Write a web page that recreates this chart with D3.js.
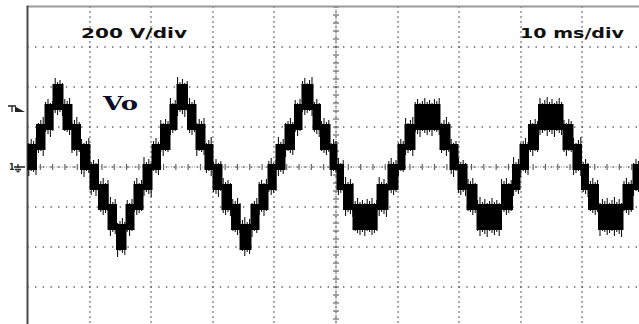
<!DOCTYPE html>
<html>
<head>
<meta charset="utf-8">
<script src="https://cdn.jsdelivr.net/npm/d3@7"></script>
<style>
  html, body { margin: 0; padding: 0; background: #fff; }
  svg { display: block; }
</style>
</head>
<body>
<svg id="scope" width="639" height="324"></svg>
<script>
// ---- Scope settings ----
const voltsPerDiv = 200;
const msPerDiv = 10;
const hDivs = 10;
const vDivs = 8;
const scaleLabels = ["200 V/div", "10 ms/div"];
const traceLabel = "Vo";
const triggerLevelV = 290;
const levelStepV = 100;

// ---- Multilevel output: switching instants (ms) and lower level (V) of each PWM band ----
const edgesMs = [
  0, 1.38, 2.76, 4.06, 5.68, 7.14, 8.52, 10.06, 11.44, 12.99, 14.37,
  15.91, 17.21, 18.67, 20.13, 21.51, 23.05, 24.19, 25.89, 27.27, 28.73,
  30.03, 31.49, 33.04, 34.42, 36.20, 37.50, 38.96, 40.26, 41.72, 43.26,
  44.48, 46.27, 47.48, 49.03, 50.16, 51.22, 52.76, 56.66, 58.44, 60.06,
  61.20, 62.82, 66.88, 68.51, 69.81, 71.27, 72.89, 76.87, 78.65, 79.87,
  81.25, 82.87, 86.85, 88.47, 89.85, 90.99, 92.61, 96.59, 98.21, 100
];
const bandLowV = [
  0, 100, 200, 300, 200, 100, 0, -100, -200, -300,
  -400, -300, -200, -100, 0, 100, 200, 300, 200, 100,
  0, -100, -200, -300, -400, -300, -200, -100, 0, 100,
  200, 300, 200, 100, 0, -100, -200, -300, -200, -100,
  0, 100, 200, 100, 0, -100, -200, -300, -200, -100,
  0, 100, 200, 100, 0, -100, -200, -300, -200, -100
];

// ---- Layout ----
const svg = d3.select("#scope");
const plotLeft = 28, plotTop = 7, divW = 61.6, divH = 40;
const x = d3.scaleLinear().domain([0, hDivs * msPerDiv]).range([plotLeft, plotLeft + hDivs * divW]);
const y = d3.scaleLinear().domain([-vDivs / 2 * voltsPerDiv, vDivs / 2 * voltsPerDiv])
  .range([plotTop + vDivs * divH, plotTop]);

// ---- Graticule ----
const grid = svg.append("g").attr("fill", "#555");
const dotsPerDiv = 8;
// vertical dotted lines
for (let i = 1; i <= hDivs; i++) {
  const gx = Math.round(x(i * msPerDiv));
  for (let k = 0; k <= vDivs * dotsPerDiv; k++) {
    const gy = plotTop + k * divH / dotsPerDiv;
    grid.append("rect").attr("x", gx - 0.7).attr("y", gy - 0.7).attr("width", 1.4).attr("height", 1.4);
  }
}
// horizontal dotted lines
for (let j = 1; j < vDivs; j++) {
  const gy = Math.round(y((vDivs / 2 - j) * voltsPerDiv));
  for (let k = 0; k <= hDivs * dotsPerDiv; k++) {
    const gx = plotLeft + k * divW / dotsPerDiv;
    grid.append("rect").attr("x", gx - 0.7).attr("y", gy - 0.7).attr("width", 1.4).attr("height", 1.4);
  }
}
// center axes with minor ticks (5 per division)
const cx = Math.round(x(hDivs / 2 * msPerDiv)), cy = Math.round(y(0));
const ticks = svg.append("g").attr("stroke", "#5a5a5a").attr("stroke-width", 1.1);
for (let k = 0; k <= hDivs * 5; k++) {
  const tx = plotLeft + k * divW / 5;
  ticks.append("line").attr("x1", tx).attr("x2", tx).attr("y1", cy - 3).attr("y2", cy + 3);
}
for (let k = 0; k <= vDivs * 5; k++) {
  const ty = plotTop + k * divH / 5;
  ticks.append("line").attr("x1", cx - 3).attr("x2", cx + 3).attr("y1", ty).attr("y2", ty);
}
ticks.append("line").attr("x1", plotLeft).attr("x2", 639).attr("y1", cy).attr("y2", cy)
  .attr("stroke-dasharray", "1,1.6").attr("stroke", "#777");
ticks.append("line").attr("x1", cx).attr("x2", cx).attr("y1", plotTop).attr("y2", 324)
  .attr("stroke-dasharray", "1,1.2").attr("stroke", "#777");

// frame (top and left edges)
svg.append("line").attr("x1", plotLeft).attr("x2", 639).attr("y1", plotTop - 0.5).attr("y2", plotTop - 0.5)
  .attr("stroke", "#9a9a9a").attr("stroke-width", 2);
svg.append("line").attr("x1", plotLeft - 0.5).attr("x2", plotLeft - 0.5).attr("y1", plotTop - 1.5).attr("y2", 324)
  .attr("stroke", "#4a4a4a").attr("stroke-width", 2);

// ---- Trace ----
const bandPad = 3;
const bands = bandLowV.map((lo, i) => ({ t0: edgesMs[i], t1: edgesMs[i + 1], lo, hi: lo + levelStepV }));
const trace = svg.append("g").attr("fill", "#000");
trace.selectAll("rect.band").data(bands).join("rect")
  .attr("class", "band")
  .attr("x", d => x(d.t0) - 0.5)
  .attr("width", d => x(d.t1) - x(d.t0) + 1)
  .attr("y", d => y(d.hi) - bandPad)
  .attr("height", d => y(d.lo) - y(d.hi) + 2 * bandPad);

// switching noise: short overshoot spikes along each band
const spikeUp = [3, 6, 1, 4, 7, 2, 5, 1, 3, 6, 2, 4, 1, 5];
const spikeDn = [2, 5, 3, 1, 6, 2, 4, 7, 1, 3, 5, 2, 6, 1];
const spikeGap = 2.4;
const spikes = [];
bands.forEach(d => {
  const xa = x(d.t0), xb = x(d.t1);
  for (let px = Math.ceil(xa / spikeGap) * spikeGap; px <= xb; px += spikeGap) {
    const k = Math.round(px / spikeGap) % spikeUp.length;
    spikes.push({ px, y0: y(d.hi) - bandPad - spikeUp[k], y1: y(d.lo) + bandPad + spikeDn[k] });
  }
});
svg.append("g").attr("stroke", "#000").attr("stroke-width", 1)
  .selectAll("line").data(spikes).join("line")
  .attr("x1", d => d.px).attr("x2", d => d.px)
  .attr("y1", d => d.y0).attr("y2", d => d.y1);

// ---- Labels ----
svg.append("text").attr("x", 81).attr("y", 38)
  .attr("font-family", "DejaVu Sans").attr("font-weight", "bold").attr("font-size", 14)
  .attr("textLength", 106).attr("lengthAdjust", "spacingAndGlyphs").attr("fill", "#111")
  .text(scaleLabels[0]);
svg.append("text").attr("x", 520).attr("y", 38)
  .attr("font-family", "DejaVu Sans").attr("font-weight", "bold").attr("font-size", 14)
  .attr("textLength", 104).attr("lengthAdjust", "spacingAndGlyphs").attr("fill", "#111")
  .text(scaleLabels[1]);
svg.append("text").attr("x", 103).attr("y", 110)
  .attr("font-family", "DejaVu Serif").attr("font-weight", "bold").attr("font-size", 18)
  .attr("textLength", 35).attr("lengthAdjust", "spacingAndGlyphs").attr("fill", "#0d0d26")
  .text(traceLabel);

// ---- Side markers: trigger level and channel ground ----
const trigY = y(triggerLevelV);
const mk = svg.append("g").attr("stroke", "#222").attr("stroke-width", 1.3).attr("fill", "none");
mk.append("path").attr("d", `M8,${trigY - 3}H16M12,${trigY - 3}V${trigY + 3}`);
svg.append("path").attr("d", `M15,${trigY - 2.5}L25,${trigY + 3}L15,${trigY + 3}Z`).attr("fill", "#222");
const gy0 = y(0);
svg.append("text").attr("x", 9).attr("y", gy0 + 3).attr("font-family", "DejaVu Sans")
  .attr("font-weight", "bold").attr("font-size", 8).attr("fill", "#222").text("1");
mk.append("path").attr("d",
  `M14,${gy0}H25M18,${gy0 - 3}V${gy0 + 1}M15,${gy0 + 2.5}H21M16.5,${gy0 + 4.5}H19.5`);
</script>
</body>
</html>
